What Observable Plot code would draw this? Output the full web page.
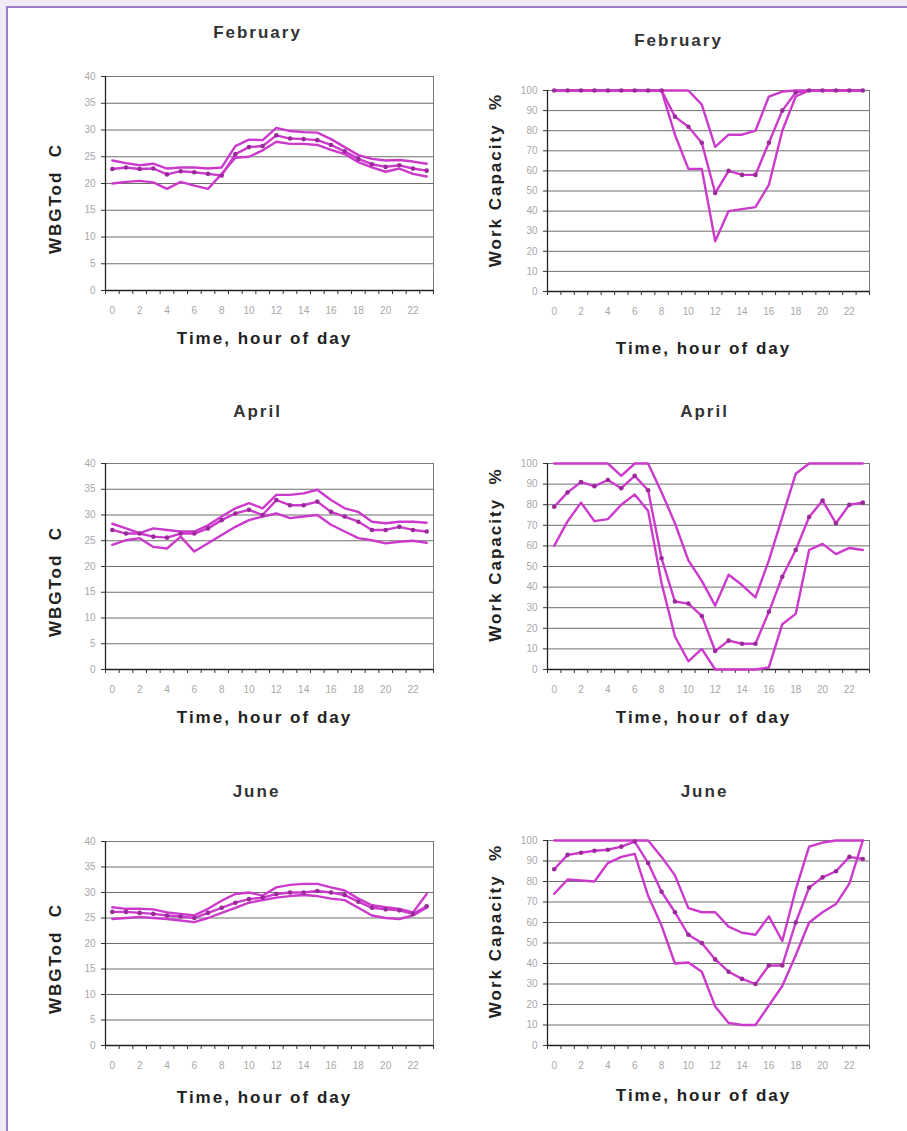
<!DOCTYPE html>
<html>
<head>
<meta charset="utf-8">
<script src="https://cdn.jsdelivr.net/npm/d3@7"></script>
<script src="https://cdn.jsdelivr.net/npm/@observablehq/plot@0.6"></script>
<style>
  html, body { margin: 0; padding: 0; background: #efecf5; }
  #page { position: relative; width: 907px; height: 1131px; overflow: hidden; background: #efecf5; }
  #sheet { position: absolute; left: 6px; top: 6px; width: 930px; height: 1150px; border: 2px solid #9f7cc6; background: #ffffff; }
  .panel { position: absolute; }
  .panel svg { display: block; }
</style>
</head>
<body>
<div id="page">
  <div id="sheet"></div>
</div>
<script>
// ---- data ----
const hours = d3.range(24);
const hourTicks = [0, 2, 4, 6, 8, 10, 12, 14, 16, 18, 20, 22];
const wbgtTicks = [0, 5, 10, 15, 20, 25, 30, 35, 40];
const wcTicks = [0, 10, 20, 30, 40, 50, 60, 70, 80, 90, 100];
const months = ["February", "April", "June"];
const xLabel = "Time, hour of day";
const wbgtLabel = "WBGTod\u00a0\u00a0C";
const wcLabel = "Work Capacity\u00a0\u00a0%";

// February WBGT (°C)
const febWbgtHigh = [24.3,23.8,23.4,23.7,22.8,23.0,23.0,22.8,23.0,27.0,28.2,28.1,30.4,29.8,29.6,29.5,28.3,26.8,25.3,24.6,24.3,24.4,24.1,23.7];
const febWbgtMid  = [22.7,23.0,22.7,22.8,21.7,22.3,22.1,21.8,21.5,25.5,26.8,27.0,29.0,28.4,28.3,28.1,27.2,26.0,24.6,23.6,23.1,23.4,22.8,22.4];
const febWbgtLow  = [20.0,20.3,20.5,20.2,19.0,20.3,19.6,19.0,21.8,24.8,25.0,26.2,27.8,27.4,27.4,27.2,26.3,25.5,24.0,23.0,22.2,22.8,21.8,21.3];
// February work capacity (%)
const febWcHigh = [100,100,100,100,100,100,100,100,100,100,100,93,72,78,78,80,97,99.5,100,100,100,100,100,100];
const febWcMid  = [100,100,100,100,100,100,100,100,100,87,82,74,49,60,58,58,74,90,99,100,100,100,100,100];
const febWcLow  = [100,100,100,100,100,100,100,100,100,78,61,61,25,40,41,42,53,80,97,100,100,100,100,100];

// April WBGT (°C)
const aprWbgtHigh = [28.3,27.4,26.5,27.4,27.1,26.8,26.8,28.0,29.7,31.3,32.3,31.3,33.9,33.9,34.2,34.9,32.9,31.3,30.6,28.7,28.4,28.7,28.7,28.5];
const aprWbgtMid  = [27.1,26.4,26.4,25.8,25.6,26.4,26.4,27.4,29.0,30.3,31.0,30.0,32.9,31.9,31.9,32.6,30.6,29.7,28.7,27.1,27.1,27.7,27.1,26.8];
const aprWbgtLow  = [24.2,25.1,25.5,23.8,23.5,25.8,22.9,24.5,26.1,27.7,29.0,29.7,30.3,29.4,29.7,30.0,28.1,26.8,25.5,25.1,24.5,24.8,25.0,24.6];
// April work capacity (%)
const aprWcHigh = [100,100,100,100,100,94,100,100,86,71,53,43,31,46,41,35,53,74,95,100,100,100,100,100];
const aprWcMid  = [79,86,91,89,92,88,94,87,54,33,32,26,9,14,12.5,12.5,28,45,58,74,82,71,80,81];
const aprWcLow  = [60,72,81,72,73,80,85,77,42,16,4,10,0,0,0,0,1,22,27,58,61,56,59,58];

// June WBGT (°C)
const junWbgtHigh = [27.1,26.8,26.8,26.7,26.1,25.8,25.5,26.8,28.4,29.7,30.0,29.4,31.0,31.5,31.7,31.7,31.0,30.4,28.8,27.5,27.1,26.8,26.1,29.7];
const junWbgtMid  = [26.2,26.2,26.0,25.8,25.5,25.3,25.0,26.0,27.0,28.0,28.7,29.0,29.7,30.0,30.0,30.3,30.0,29.5,28.2,27.0,26.7,26.5,25.8,27.3];
const junWbgtLow  = [24.8,25.0,25.2,25.0,24.8,24.5,24.2,25.0,26.0,27.0,28.0,28.5,29.0,29.3,29.5,29.3,28.8,28.5,27.0,25.5,25.0,24.8,25.5,27.0];
// June work capacity (%)
const junWcHigh = [100,100,100,100,100,100,100,100,92,83,67,65,65,58,55,54,63,51,76,97,99,100,100,100];
const junWcMid  = [86,93,94,95,95.5,97,99.5,89,75,65,54,50,42,36,32.5,30,39,39,60,77,82,85,92,91];
const junWcLow  = [74,81,80.5,80,89,92,93.5,73,58.5,40,40.5,36,19,11,10,10,19.5,29,44,60,65,69,79,100];

// ---- helpers ----
function rowsOf(high, mid, low) {
  const out = [];
  [["high", high], ["mid", mid], ["low", low]].forEach(([s, arr]) => {
    arr.forEach((v, i) => out.push({hour: hours[i], value: v, series: s}));
  });
  return out;
}

const LINE = "#cc3acc";
const DOT = "#9a2a9a";
const FONT = "'Liberation Sans', Arial, sans-serif";

function makePanel(cfg) {
  const rows = rowsOf(cfg.high, cfg.mid, cfg.low);
  const mid = rows.filter(d => d.series === "mid");
  const yMax = cfg.ticks[cfg.ticks.length - 1];
  const labelStyle = {fontWeight: "bold", fontSize: 17, fill: "#222", textAnchor: "middle", lineAnchor: "middle"};
  const chart = Plot.plot({
    width: cfg.width, height: cfg.height,
    marginTop: cfg.mt, marginBottom: cfg.mb, marginLeft: cfg.ml, marginRight: cfg.mr,
    x: {domain: [-0.5, 23.5], label: null},
    y: {domain: [0, yMax], label: null},
    style: {fontFamily: FONT, background: "transparent", overflow: "visible"},
    marks: [
      Plot.ruleY(cfg.ticks, {stroke: "#6f6f6f", strokeWidth: 1}),
      Plot.frame({stroke: "#7a7a7a"}),
      Plot.ruleY([0], {stroke: "#222", strokeWidth: 1.3}),
      Plot.ruleX([-0.5], {stroke: "#222", strokeWidth: 1.3}),
      Plot.axisY(cfg.ticks, {tickSize: 4, tickPadding: 6, stroke: "#333", fill: "#a8a8a8", fontSize: 10, label: null}),
      Plot.axisX(d3.range(-0.5, 24, 1), {tickSize: 4, stroke: "#333", fill: "none", label: null}),
      Plot.axisX(hourTicks, {tickSize: 0, tickPadding: 16, fill: "#a8a8a8", fontSize: 10, label: null}),
      Plot.line(rows, {x: "hour", y: "value", z: "series", stroke: LINE, strokeWidth: 2.4, strokeLinejoin: "round"}),
      Plot.dot(mid, {x: "hour", y: "value", r: 2.3, fill: DOT, stroke: "none"}),
      Plot.text([cfg.title], {...labelStyle, frameAnchor: "top", dx: cfg.tdx, dy: cfg.tdy, fill: "#333"}),
      Plot.text([xLabel], {...labelStyle, frameAnchor: "bottom", dx: cfg.xdx, dy: cfg.xdy}),
      Plot.text([cfg.ylabel], {...labelStyle, frameAnchor: "left", rotate: -90, dx: cfg.ydx, dy: cfg.ydy})
    ]
  });
  // widen letter spacing of the three label texts (title, x label, y label)
  const groups = d3.select(chart).selectAll('g[aria-label="text"]').nodes();
  groups.slice(-3).forEach(g => d3.select(g).style("letter-spacing", "2px"));
  const div = document.createElement("div");
  div.className = "panel";
  div.style.left = cfg.left + "px";
  div.style.top = cfg.top + "px";
  div.appendChild(chart);
  document.getElementById("page").appendChild(div);
}

const L = {left: 20, width: 440, ml: 85, mr: 27, ticks: wbgtTicks, ylabel: wbgtLabel, ydx: -50, xdx: -5};
const R = {left: 460, width: 440, ml: 87, mr: 31, ticks: wcTicks, ylabel: wcLabel, ydx: -52, xdx: -5};

makePanel({...L, title: months[0], top: 15, height: 355, mt: 61, mb: 80, high: febWbgtHigh, mid: febWbgtMid, low: febWbgtLow, tdx: -12, tdy: -44, xdy: 48, ydy: 15});
makePanel({...R, title: months[0], top: 15, height: 355, mt: 75, mb: 79, high: febWcHigh, mid: febWcMid, low: febWcLow, tdx: -30, tdy: -50, xdy: 57, ydy: -11});
makePanel({...L, title: months[1], top: 385, height: 360, mt: 78, mb: 76, high: aprWbgtHigh, mid: aprWbgtMid, low: aprWbgtLow, tdx: -12, tdy: -52, xdy: 48, ydy: 15});
makePanel({...R, title: months[1], top: 385, height: 360, mt: 78, mb: 76, high: aprWcHigh, mid: aprWcMid, low: aprWcLow, tdx: -4, tdy: -52, xdy: 48, ydy: -12});
makePanel({...L, title: months[2], top: 762, height: 360, mt: 79, mb: 77, high: junWbgtHigh, mid: junWbgtMid, low: junWbgtLow, tdx: -13, tdy: -50, xdy: 52, ydy: 15});
makePanel({...R, title: months[2], top: 762, height: 360, mt: 78, mb: 77, high: junWcHigh, mid: junWcMid, low: junWcLow, tdx: -4, tdy: -49, xdy: 50, ydy: -12});
</script>
</body>
</html>
